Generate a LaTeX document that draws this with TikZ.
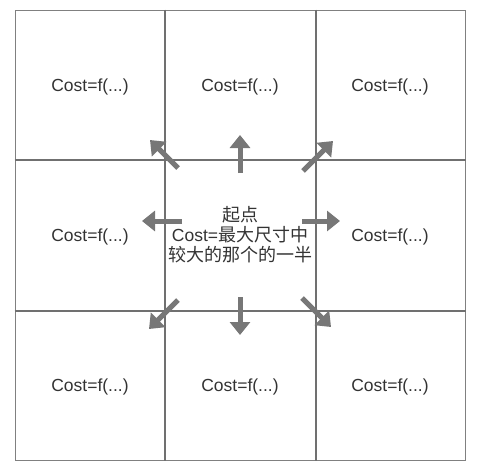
\documentclass[tikz,border=0pt]{standalone}
\usepackage{fontspec}
\setmainfont{Liberation Sans}
\newfontfamily\cjk{Noto Sans CJK SC}
\usetikzlibrary{arrows.meta}
\definecolor{gridgray}{HTML}{808080}
\definecolor{innergray}{HTML}{707070}
\definecolor{arrowgray}{HTML}{777777}
\definecolor{txtgray}{HTML}{333333}
\tikzset{
  cell/.style={draw=gridgray, line width=1pt, minimum width=150pt, minimum height=150pt, inner sep=0pt, text=txtgray, font=\fontsize{17.5}{20}\selectfont},
  costcell/.style={cell, text depth=0pt},
  innerline/.style={draw=innergray, line width=2pt},
  bigarrow/.style={draw=arrowgray, line width=5pt, -{Triangle[width=20pt,length=13pt]}, color=arrowgray},
}
\begin{document}
\begin{tikzpicture}[x=1pt,y=-1pt]
\useasboundingbox (0,0) rectangle (485,471);
% cells
\node[costcell] (c00) at (90,85) {Cost=f(...)};
\node[costcell] (c01) at (240,85) {Cost=f(...)};
\node[costcell] (c02) at (390,85) {Cost=f(...)};
\node[costcell] (c10) at (90,235) {Cost=f(...)};
\node[cell, align=center] (c11) at (240,235) {{\cjk\fontsize{18}{20}\selectfont 起点}\\Cost={\cjk\fontsize{18}{20}\selectfont 最大尺寸中}\\{\cjk\fontsize{18}{20}\selectfont 较大的那个的一半}};
\node[costcell] (c12) at (390,235) {Cost=f(...)};
\node[costcell] (c20) at (90,385) {Cost=f(...)};
\node[costcell] (c21) at (240,385) {Cost=f(...)};
\node[costcell] (c22) at (390,385) {Cost=f(...)};
% inner grid lines
\draw[innerline] (c01.north west) -- (c21.south west);
\draw[innerline] (c01.north east) -- (c21.south east);
\draw[innerline] (c10.north west) -- (c12.north east);
\draw[innerline] (c10.south west) -- (c12.south east);
% arrow endpoints
\coordinate (uS) at (240,173); \coordinate (uE) at (240,135);
\coordinate (dS) at (240,297); \coordinate (dE) at (240,335);
\coordinate (lS) at (182,221); \coordinate (lE) at (142,221);
\coordinate (rS) at (302,221); \coordinate (rE) at (340,221);
\coordinate (ulS) at (178,168); \coordinate (ulE) at (150,140);
\coordinate (urS) at (303,171); \coordinate (urE) at (333,141);
\coordinate (dlS) at (178,300); \coordinate (dlE) at (149,329);
\coordinate (drS) at (302,298); \coordinate (drE) at (331,327);
\draw[bigarrow] (uS) -- (uE);
\draw[bigarrow] (dS) -- (dE);
\draw[bigarrow] (lS) -- (lE);
\draw[bigarrow] (rS) -- (rE);
\draw[bigarrow] (ulS) -- (ulE);
\draw[bigarrow] (urS) -- (urE);
\draw[bigarrow] (dlS) -- (dlE);
\draw[bigarrow] (drS) -- (drE);
\end{tikzpicture}
\end{document}
